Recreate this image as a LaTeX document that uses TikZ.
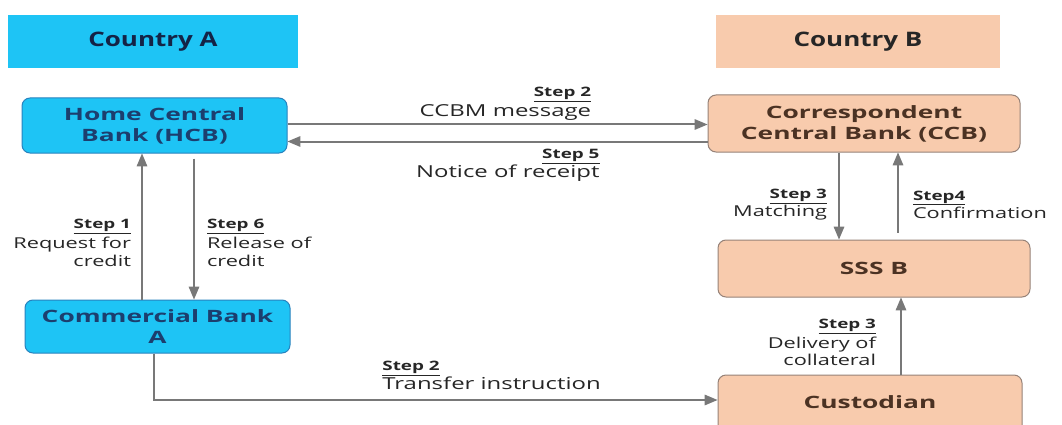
\documentclass[tikz,border=0pt]{standalone}
\usepackage{fontspec}
\setmainfont{Open Sans}
\newfontfamily\headfont[FakeStretch=1.3]{Open Sans}
\newfontfamily\boxfont[FakeStretch=1.55]{Open Sans}
\newfontfamily\descfont[FakeStretch=1.45]{Open Sans}
\usetikzlibrary{arrows}

\definecolor{skyblue}{RGB}{30,196,245}
\definecolor{skyborder}{RGB}{40,130,190}
\definecolor{navytext}{RGB}{28,62,110}
\definecolor{headnavy}{RGB}{20,35,70}
\definecolor{peach}{RGB}{248,203,173}
\definecolor{peachborder}{RGB}{150,130,120}
\definecolor{browntext}{RGB}{75,50,35}
\definecolor{arrowgray}{RGB}{120,120,120}

\begin{document}
\begin{tikzpicture}[x=1pt,y=-1pt]
	\useasboundingbox (0,0) rectangle (1062,425);
	\tikzstyle{countrybox}=[align=center, font=\headfont\fontsize{20}{22}\selectfont\bfseries]
	\tikzstyle{bankbox}=[draw, line width=1pt, rounded corners=8pt, align=center, font=\boxfont\fontsize{17}{21}\selectfont\bfseries]
	% colour variants
	\tikzstyle{boxa}=[fill=skyblue, draw=skyborder, text=navytext]
	\tikzstyle{boxb}=[fill=peach, draw=peachborder, text=browntext]

	\tikzstyle{myarrow}=[->, >=triangle 45, draw=arrowgray, line width=2pt]
	\tikzstyle{mydesc}=[align=left, inner sep=2pt, font=\descfont\fontsize{15}{17.5}\selectfont, text=black!85]
	% the long horizontal labels are set a little larger
	\tikzstyle{longdesc}=[font=\descfont\fontsize{16.5}{18}\selectfont]

	\newcommand{\stepname}[1]{{\fontsize{13}{19}\selectfont\bfseries\underline{#1}}}

	\node[countrybox, fill=skyblue, text=headnavy, minimum width=290pt, minimum height=53pt] (countrya) at (153,42) {Country A};
	\node[countrybox, fill=peach, text=black!85, minimum width=284pt, minimum height=53pt] (countryb) at (858,42) {Country B};

	\node[bankbox, boxa, minimum width=265pt, minimum height=55pt] (hcb) at (154.5,125.5) {Home Central\\Bank (HCB)};
	\node[bankbox, boxa, minimum width=265pt, minimum height=53pt] (cba) at (157.5,326.5) {Commercial Bank\\A};
	\node[bankbox, boxb, minimum width=312pt, minimum height=57pt] (ccb) at (864,123.5) {Correspondent\\Central Bank (CCB)};
	\node[bankbox, boxb, minimum width=312pt, minimum height=57pt] (sssb) at (874,268.5) {SSS B};
	\node[bankbox, boxb, minimum width=304pt, minimum height=60pt, text depth=6pt] (cust) at (870,405) {Custodian};

	\draw[myarrow] ([yshift=1pt] hcb.east) -- ([yshift=1pt] hcb.east -| ccb.west) node[mydesc, longdesc, pos=0.73, anchor=south east, align=right, yshift=1pt] {\stepname{Step 2}\\[2pt]CCBM message};

	\draw[myarrow] ([yshift=-16pt] hcb.east -| ccb.west) -- ([yshift=-16pt] hcb.east) node[mydesc, longdesc, pos=0.25, anchor=north east, align=right, yshift=-5pt] {\stepname{Step 5}\\[1pt]Notice of receipt};

	\draw[myarrow] ([xshift=-15.5pt] cba.north) -- ([xshift=-15.5pt] cba.north |- hcb.south) node[mydesc, pos=0.39, left, align=right, xshift=-8pt] {\stepname{Step 1}\\[3pt]Request for\\credit};

	\draw[myarrow, shorten <=5pt] ([xshift=36.5pt] cba.north |- hcb.south) -- ([xshift=36.5pt] cba.north) node[mydesc, pos=0.61, right, xshift=10pt] {\stepname{Step 6}\\[3pt]Release of\\credit};

	\draw[myarrow] ([xshift=-25pt] ccb.south) -- ([xshift=-25pt] ccb.south |- sssb.north) node[mydesc, pos=0.6, left, align=right, xshift=-9pt] {\stepname{Step 3}\\[1pt]Matching};

	\draw[myarrow, shorten <=7pt] ([xshift=34pt] ccb.south |- sssb.north) -- ([xshift=34pt] ccb.south) node[mydesc, pos=0.4, right, xshift=12pt] {\stepname{Step4}\\[1pt]Confirmation};

	\draw[myarrow] ([xshift=31pt] cust.north) -- ([xshift=31pt] cust.north |- sssb.south) node[mydesc, pos=0.05, anchor=south east, align=right, xshift=-22pt, yshift=2pt] {\stepname{Step 3}\\[2pt]Delivery of\\collateral};

	\draw[myarrow] ([xshift=-3.5pt] cba.south) |- ([yshift=5pt] cust.west) node[mydesc, longdesc, pos=0.7, anchor=south west, yshift=7pt] {\stepname{Step 2}\\[1pt]Transfer instruction};
\end{tikzpicture}
\end{document}
